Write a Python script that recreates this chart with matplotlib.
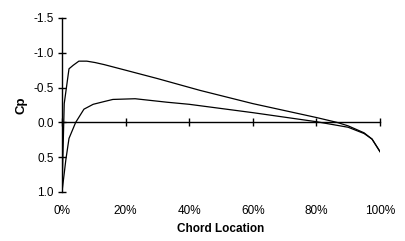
import matplotlib
matplotlib.use("Agg")
import matplotlib.pyplot as plt

# chord position (%) and pressure coefficient
x_upper = [0, 0.7, 2.2, 3.5, 5.3, 7.8, 10.4, 13.3, 20, 30, 43.4, 60, 74, 80, 86.5, 90, 95, 97.5, 100]
cp_upper = [1.0, -0.27, -0.77, -0.82, -0.88, -0.88, -0.86, -0.83, -0.75, -0.63, -0.46, -0.27, -0.13, -0.07, 0.0, 0.05, 0.15, 0.24, 0.42]
x_lower = [0, 1.2, 2.2, 4.3, 6.9, 9.8, 13.3, 16, 23, 33, 40, 60, 80, 85, 90, 95, 97.5, 100]
cp_lower = [1.0, 0.54, 0.23, 0.0, -0.19, -0.26, -0.30, -0.33, -0.34, -0.29, -0.26, -0.14, -0.01, 0.03, 0.07, 0.16, 0.24, 0.42]

x_ticks = [0, 20, 40, 60, 80, 100]
x_labels = ["0%", "20%", "40%", "60%", "80%", "100%"]
y_ticks = [-1.5, -1.0, -0.5, 0.0, 0.5, 1.0]
y_labels = ["-1.5", "-1.0", "-0.5", "0.0", "0.5", "1.0"]

plt.rcParams["font.family"] = ["Liberation Sans", "DejaVu Sans"]

fig = plt.figure(figsize=(4.05, 2.41), dpi=100)
ax = fig.add_axes([62 / 405, 1 - 192 / 241, 318 / 405, 174 / 241])

ax.plot(x_upper, cp_upper, color="black", lw=0.9)
ax.plot(x_lower, cp_lower, color="black", lw=0.9)

ax.set_xlim(0, 100)
ax.set_ylim(1.0, -1.5)

for s in ["top", "right", "bottom"]:
    ax.spines[s].set_visible(False)
ax.spines["left"].set_linewidth(1)

ax.set_yticks(y_ticks)
ax.set_yticklabels(y_labels)
ax.tick_params(axis="y", direction="inout", length=6, width=1, labelsize=8.5, pad=3)

ax.set_xticks(x_ticks)
ax.set_xticklabels(x_labels)
ax.tick_params(axis="x", length=0, labelsize=8.5, pad=9)

# zero line with ticks
sec = ax.secondary_xaxis(0.4)
sec.set_xticks(x_ticks)
sec.tick_params(direction="inout", length=6, width=1, labelbottom=False)
sec.spines["bottom"].set_linewidth(1)

ax.set_xlabel("Chord Location", fontsize=8.5, fontweight="bold", labelpad=5)
ax.set_ylabel("Cp", fontsize=9.5, fontweight="bold", labelpad=4)

fig.savefig("out.png", dpi=100)
